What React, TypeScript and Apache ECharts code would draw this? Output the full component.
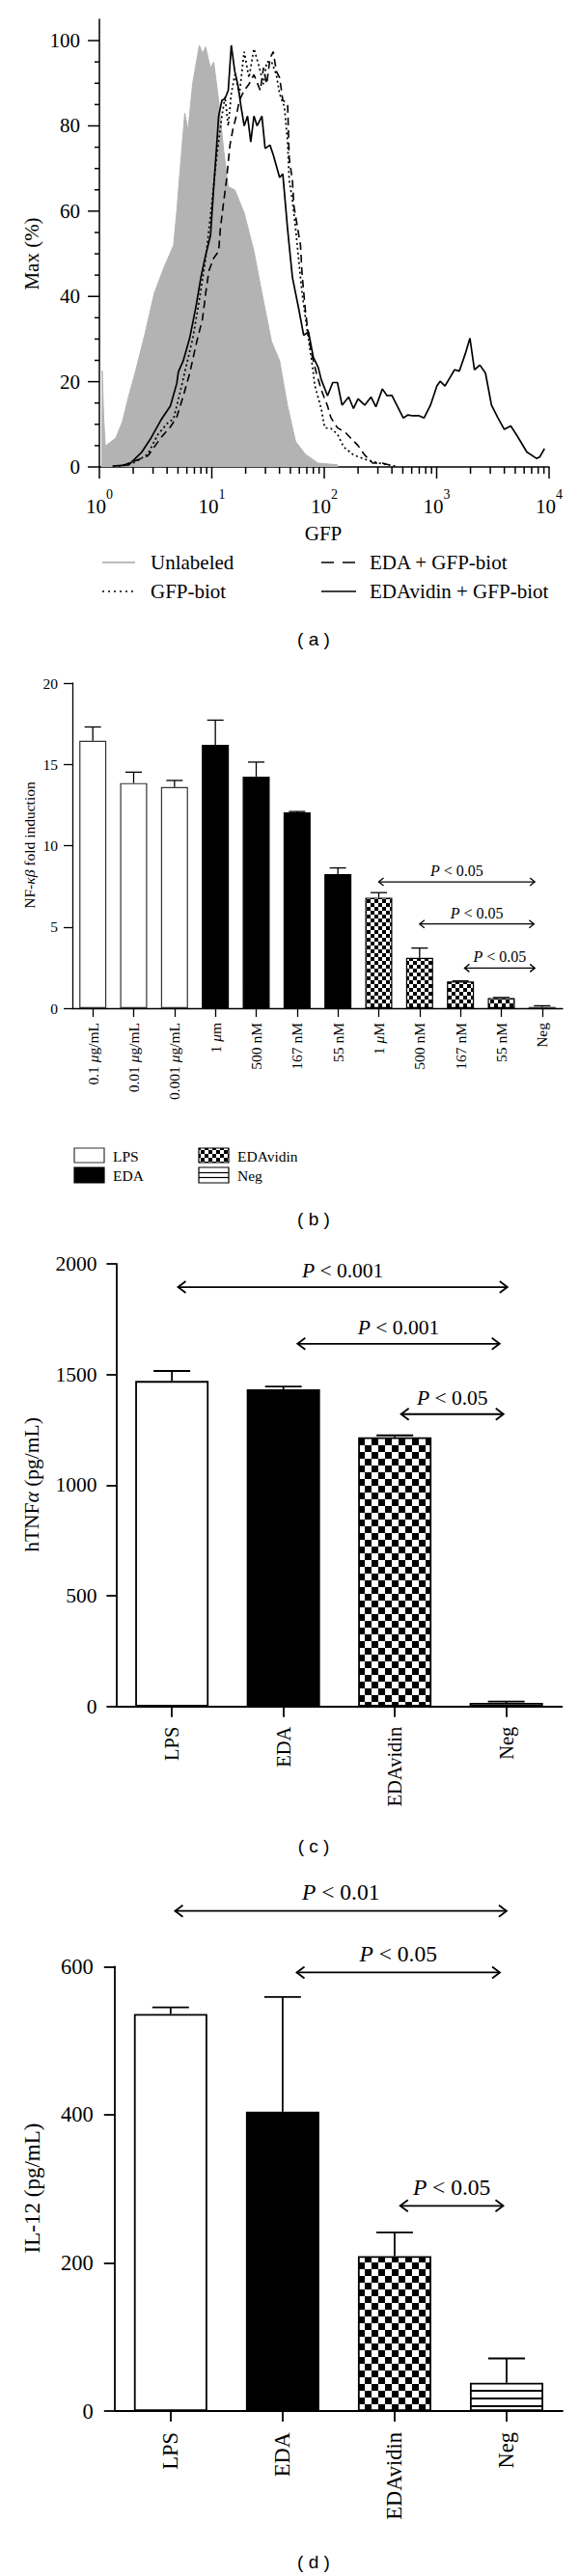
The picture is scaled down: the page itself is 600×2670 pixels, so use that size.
import React, { useEffect, useRef } from 'react';
import * as echarts from 'echarts';

const SERIF = '"Liberation Serif", "Times New Roman", serif';
const SANS = '"Liberation Sans", Arial, sans-serif';

// ---------- Panel (a): flow cytometry histograms, [GFP, % of max] ----------
const unlabeled = [
  [1.05, 0], [1.06, 22.6], [1.09, 12], [1.13, 4.9], [1.4, 6.8], [1.6, 10.6], [1.82, 16.6], [2.07, 21.9],
  [2.53, 31], [3.08, 40.8], [3.75, 46.8], [4.57, 52], [4.88, 60], [5.21, 69.4], [5.75, 83], [6.14, 79],
  [6.76, 90], [7.74, 98.9], [8.26, 97], [8.81, 98.5], [9.72, 93.6], [10.4, 95], [11.5, 86], [12.7, 74.7],
  [14.0, 65.7], [16.0, 65], [19.4, 59.6], [23.7, 50.6], [27.9, 40.8], [34.0, 29.4], [40.1, 24.9],
  [47.2, 14.3], [55.6, 6], [67.8, 3], [88.1, 0.9], [131, 0.5], [132, 0],
];
const gfpBiot = [
  [1.49, 0.2], [2.07, 1.1], [2.7, 3], [3.29, 7.5], [4.01, 10.2], [4.57, 11.3], [5.21, 17.4], [5.94, 23.8],
  [6.78, 30.2], [7.74, 39.2], [8.83, 49], [10.07, 62.6], [11.1, 73.2], [12.3, 82.3], [13.1, 86.8], [14.0, 80],
  [14.9, 87.5], [16.0, 92], [17.6, 87.5], [19.4, 97.4], [21.4, 91.3], [23.7, 98.1], [26.1, 94.3], [28.8, 89.8],
  [30.8, 95], [34.0, 95], [37.5, 92], [40.1, 87.5], [44.2, 84.5], [47.2, 76.2], [48.8, 67.2], [52.1, 62.6],
  [55.7, 55.8], [59.4, 48.3], [63.5, 40.8], [70.1, 32.5], [77.4, 24.9], [82.6, 19], [94, 13.7], [101, 9.2],
  [115, 9], [131, 7.7], [149, 4.7], [182, 2.8], [237, 1.7], [307, 0.9], [427, 0.2],
];
const edaGfpBiot = [
  [1.6, 0.3], [2.7, 2.6], [3.51, 6.8], [4.28, 9.4], [4.88, 11.7], [5.57, 16.6], [6.35, 21.9], [7.24, 28.7],
  [8.26, 34.7], [8.83, 40.8], [9.42, 46], [10.4, 49], [11.5, 50.6], [11.9, 55.8], [12.7, 61.9], [13.5, 67.2],
  [14.5, 75.5], [15.4, 79.2], [16.5, 82.3], [17.6, 86], [19.4, 88.3], [21.4, 89.8], [23.7, 92], [27.0, 88.3],
  [28.8, 93.6], [30.8, 89.8], [32.9, 95.8], [35.2, 97.4], [37.5, 92.8], [40.1, 91.3], [42.8, 86], [47.2, 85.3],
  [48.8, 72.5], [52.1, 67.2], [53.8, 61.1], [57.5, 56.6], [61.5, 52], [63.5, 45.3], [67.8, 37], [72.4, 30.9],
  [77.4, 26.4], [85.4, 21.9], [94.2, 18.1], [101, 16], [107, 14.3], [115, 11.5], [131, 9.2], [154, 8.1],
  [170, 6.9], [200, 5], [229, 2.8], [270, 0.9], [329, 0.9], [374, 0.5],
];
const edavidinGfpBiot = [
  [1.31, 0.2], [1.82, 0.5], [2.07, 1.9], [2.37, 3.4], [2.88, 6.8], [3.51, 10.9], [4.28, 14.3], [4.88, 19.6],
  [5.04, 22.3], [5.57, 24.9], [6.35, 30.2], [7.24, 37.7], [8.0, 44.5], [8.83, 49.8], [9.74, 54.3], [10.4, 65.7],
  [11.1, 76.2], [11.5, 82.3], [12.3, 86], [13.1, 86.4], [14.0, 88.3], [14.9, 98.9], [16.0, 92.8], [17.0, 89.8],
  [18.2, 84.5], [19.4, 80], [20.8, 82.3], [22.2, 76.2], [23.7, 82.3], [25.3, 80], [27.9, 82.3], [29.8, 74.7],
  [32.9, 75.5], [35.2, 73.2], [40.1, 67.9], [42.8, 68.7], [47.2, 55.8], [52.1, 44.5], [59.4, 37], [65.6, 30.9],
  [72.4, 31.7], [80, 25.7], [88.3, 23.4], [94, 20.5], [107, 16.7], [119, 19.8], [131, 19.8], [144, 14.5],
  [165, 16.4], [182, 13.7], [200, 16], [229, 14.5], [261, 16.4], [288, 14.1], [329, 18.3], [363, 16.7],
  [400, 16.8], [442, 14.5], [504, 11.5], [556, 12.2], [613, 12], [700, 12], [773, 11.5], [881, 14.5],
  [1005, 19], [1074, 20.1], [1186, 19], [1309, 20.9], [1442, 22.8], [1592, 22.5], [1795, 26.5], [1977, 30.2],
  [2167, 22.8], [2425, 23.9], [2718, 22], [3073, 14.5], [3508, 11.5], [3997, 8.8], [4560, 9.6], [5200, 7.3],
  [6339, 3.5], [7726, 2], [8244, 2.3], [9100, 4.3],
];
const gfpMajorTicks = [1, 10, 100, 1000, 10000];
const gfpMinorTicks = [2, 3, 4, 5, 6, 7, 8, 9, 20, 30, 40, 50, 60, 70, 80, 90, 200, 300, 400, 500, 600, 700, 800, 900,
  2000, 3000, 4000, 5000, 6000, 7000, 8000, 9000];
const maxMajorTicks = [0, 20, 40, 60, 80, 100];
const maxMinorTicks = [5, 10, 15, 25, 30, 35, 45, 50, 55, 65, 70, 75, 85, 90, 95];

// ---------- Panel (b): NF-kB fold induction ----------
const nfCategories = ['0.1 μg/mL', '0.01 μg/mL', '0.001 μg/mL', '1 μm', '500 nM', '167 nM', '55 nM',
  '1 μM', '500 nM', '167 nM', '55 nM', 'Neg'];
const nfLps = [16.45, 13.85, 13.6];
const nfLpsErr = [0.85, 0.67, 0.41];
const nfEda = [16.2, 14.25, 12.05, 8.25];
const nfEdaErr = [1.52, 0.89, 0.05, 0.38];
const nfEdavidin = [6.8, 3.1, 1.65, 0.63];
const nfEdavidinErr = [0.31, 0.6, 0.03, 0.03];
const nfNeg = [0.08];
const nfNegErr = [0.07];
const nfBrackets = [[7, 10.82, 7.77], [8, 10.8, 5.18], [9.1, 10.82, 2.47]];
const nfBracketLabels = ['P < 0.05', 'P < 0.05', 'P < 0.05'];

// ---------- Panel (c): hTNFα ----------
const groupCategories = ['LPS', 'EDA', 'EDAvidin', 'Neg'];
const tnfValues = [1471, 1433, 1216, 16];
const tnfErrors = [45, 13, 9, 6];
const tnfBrackets = [[0.055, 3.01, 1895], [1.127, 2.94, 1639], [2.056, 2.975, 1321]];
const tnfBracketLabels = ['P < 0.001', 'P < 0.001', 'P < 0.05'];

// ---------- Panel (d): IL-12 ----------
const ilValues = [536, 404, 209, 38];
const ilErrors = [9, 155, 32, 33];
const ilBrackets = [[0.04, 3.0, 675], [1.126, 2.94, 592], [2.05, 2.97, 277]];
const ilBracketLabels = ['P < 0.01', 'P < 0.05', 'P < 0.05'];

function makePattern(w: number, h: number, draw: (ctx: CanvasRenderingContext2D) => void) {
  const c = document.createElement('canvas');
  c.width = w;
  c.height = h;
  const ctx = c.getContext('2d')!;
  ctx.fillStyle = '#fff';
  ctx.fillRect(0, 0, w, h);
  ctx.fillStyle = '#000';
  draw(ctx);
  return { image: c.toDataURL(), repeat: 'repeat', imageWidth: w, imageHeight: h };
}
function checker(s: number) {
  return makePattern(2 * s, 2 * s, (ctx) => {
    ctx.fillRect(0, 0, s, s);
    ctx.fillRect(s, s, s, s);
  });
}

function errRender(cap: number, lw: number) {
  return (params: any, api: any) => {
    const cat = api.value(0);
    const v = api.value(1);
    const e = api.value(2);
    const p0 = api.coord([cat, v]);
    const p1 = api.coord([cat, v + e]);
    const style = { stroke: '#000', lineWidth: lw };
    return {
      type: 'group',
      children: [
        { type: 'line', shape: { x1: p0[0], y1: p0[1], x2: p1[0], y2: p1[1] }, style },
        { type: 'line', shape: { x1: p1[0] - cap / 2, y1: p1[1], x2: p1[0] + cap / 2, y2: p1[1] }, style },
      ],
    };
  };
}

function bracketRender(labels: string[], hl: number, hw: number, textDy: number, fontSize: number, lw: number) {
  return (params: any, api: any) => {
    const from = api.value(0);
    const to = api.value(1);
    const y = api.value(2);
    const c0 = api.coord([0, y]);
    const c1 = api.coord([1, y]);
    const step = c1[0] - c0[0];
    const x0 = c0[0] + from * step;
    const x1 = c0[0] + to * step;
    const yy = c0[1];
    const style = { stroke: '#000', lineWidth: lw, fill: 'none' };
    const txt = labels[params.dataIndex].replace('P', '{i|P}');
    return {
      type: 'group',
      children: [
        { type: 'line', shape: { x1: x0, y1: yy, x2: x1, y2: yy }, style },
        { type: 'polyline', shape: { points: [[x0 + hl, yy - hw], [x0, yy], [x0 + hl, yy + hw]] }, style },
        { type: 'polyline', shape: { points: [[x1 - hl, yy - hw], [x1, yy], [x1 - hl, yy + hw]] }, style },
        {
          type: 'text',
          x: (x0 + x1) / 2,
          y: yy + textDy,
          style: {
            text: txt, fill: '#000', fontSize, fontFamily: SERIF,
            align: 'center', verticalAlign: 'middle', textAlign: 'center', textVerticalAlign: 'middle',
            rich: { i: { fontStyle: 'italic', fontSize, fontFamily: SERIF, fill: '#000' } },
          },
        },
      ],
    };
  };
}

function gText(text: string, x: number, y: number, fontSize: number, opts: any = {}) {
  return {
    type: 'text',
    x, y,
    rotation: opts.rotation || 0,
    silent: true,
    style: {
      text,
      fontSize,
      fontFamily: opts.font || SERIF,
      fill: '#000',
      align: opts.align || 'center',
      verticalAlign: 'middle',
      textAlign: opts.align || 'center',
      textVerticalAlign: 'middle',
      rich: opts.rich,
    },
  };
}

function axisCommon(width: number, tickLen: number, fontSize: number, margin: number) {
  return {
    axisLine: { show: true, onZero: false, lineStyle: { color: '#000', width } },
    axisTick: { show: true, length: tickLen, lineStyle: { color: '#000', width } },
    splitLine: { show: false },
    axisLabel: {
      margin, fontSize, color: '#000', fontFamily: SERIF,
      formatter: (v: any) => String(v),
    },
  };
}

export default function App() {
  const ref = useRef<HTMLDivElement>(null);
  useEffect(() => {
    const chart = echarts.init(ref.current!, null, { renderer: 'svg' });
    const chk4 = checker(4);
    const chk7 = checker(7);
    const hLines = makePattern(8, 8, (ctx) => ctx.fillRect(0, 5, 8, 2));

    const aTickData = [
      ...gfpMajorTicks.map((v) => [v, 0, 0]),
      ...gfpMinorTicks.map((v) => [v, 0, 1]),
      ...maxMajorTicks.map((v) => [1, v, 2]),
      ...maxMinorTicks.map((v) => [1, v, 3]),
    ];

    const place = (vals: number[], start: number) =>
      nfCategories.map((_, i) => (i >= start && i < start + vals.length ? vals[i - start] : '-'));
    const nfErrData = [
      ...nfLps.map((v, i) => [i, v, nfLpsErr[i]]),
      ...nfEda.map((v, i) => [3 + i, v, nfEdaErr[i]]),
      ...nfEdavidin.map((v, i) => [7 + i, v, nfEdavidinErr[i]]),
      ...nfNeg.map((v, i) => [11 + i, v, nfNegErr[i]]),
    ];

    const styleCD = [
      { color: '#fff', borderColor: '#000', borderWidth: 1.8 },
      { color: '#000', borderColor: '#000', borderWidth: 1.8 },
      { color: chk7, borderColor: '#000', borderWidth: 1.8 },
      { color: '#fff', borderColor: '#000', borderWidth: 1.8 },
    ];
    const styleD = styleCD.map((s, i) => (i === 3 ? { ...s, color: hLines } : s));

    const option: any = {
      animation: false,
      backgroundColor: '#fff',
      textStyle: { fontFamily: SERIF, color: '#000' },
      grid: [
        { left: 103, top: 20, width: 466, height: 464, outerBoundsMode: 'none', containLabel: false },
        { left: 75, top: 708, width: 508, height: 337, outerBoundsMode: 'none', containLabel: false },
        { left: 120.4, top: 1310, width: 462, height: 458.7, outerBoundsMode: 'none', containLabel: false },
        { left: 118.8, top: 2038.3, width: 464.2, height: 460.7, outerBoundsMode: 'none', containLabel: false },
      ],
      xAxis: [
        {
          gridIndex: 0, type: 'log', logBase: 10, min: 1, max: 10000,
          axisLine: { show: true, onZero: false, lineStyle: { color: '#000', width: 1.5 } },
          axisTick: { show: false }, minorTick: { show: false }, splitLine: { show: false },
          axisLabel: {
            margin: 21, color: '#000',
            formatter: (v: number) => `{b|10}{s|${Math.round(Math.log10(v))}}`,
            rich: {
              b: { fontSize: 21, fontFamily: SERIF, color: '#000', lineHeight: 30, verticalAlign: 'bottom' },
              s: { fontSize: 14, fontFamily: SERIF, color: '#000', lineHeight: 14, verticalAlign: 'top' },
            },
          },
        },
        {
          gridIndex: 1, type: 'category', data: nfCategories,
          ...axisCommon(1.3, 9, 15.5, 15),
          axisTick: { show: true, alignWithLabel: true, interval: 0, length: 9, lineStyle: { color: '#000', width: 1.3 } },
          axisLabel: {
            interval: 0, rotate: 90, margin: 15, fontSize: 15.5, color: '#000', fontFamily: SERIF,
            formatter: (v: string) => v.replace('μ', '{i|μ}'),
            rich: { i: { fontStyle: 'italic', fontSize: 15.5, fontFamily: SERIF, color: '#000' } },
          },
        },
        {
          gridIndex: 2, type: 'category', data: groupCategories,
          ...axisCommon(1.8, 11, 20.5, 21),
          axisTick: { show: true, alignWithLabel: true, interval: 0, length: 11, lineStyle: { color: '#000', width: 1.8 } },
          axisLabel: { interval: 0, rotate: 90, margin: 21, fontSize: 20.5, color: '#000', fontFamily: SERIF },
        },
        {
          gridIndex: 3, type: 'category', data: groupCategories,
          ...axisCommon(1.8, 11, 22.5, 22),
          axisTick: { show: true, alignWithLabel: true, interval: 0, length: 11, lineStyle: { color: '#000', width: 1.8 } },
          axisLabel: { interval: 0, rotate: 90, margin: 22, fontSize: 22.5, color: '#000', fontFamily: SERIF },
        },
      ],
      yAxis: [
        {
          gridIndex: 0, type: 'value', min: 0, max: 105, interval: 20,
          axisLine: { show: true, onZero: false, lineStyle: { color: '#000', width: 1.5 } },
          axisTick: { show: false }, splitLine: { show: false },
          axisLabel: {
            margin: 20, fontSize: 21, color: '#000', fontFamily: SERIF,
            formatter: (v: number) => (v <= 100 ? String(v) : ''),
          },
        },
        { gridIndex: 1, type: 'value', min: 0, max: 20, interval: 5, ...axisCommon(1.3, 9, 15.5, 15) },
        { gridIndex: 2, type: 'value', min: 0, max: 2000, interval: 500, ...axisCommon(1.8, 10, 21.5, 20) },
        { gridIndex: 3, type: 'value', min: 0, max: 600, interval: 200, ...axisCommon(1.8, 11, 22.5, 22) },
      ],
      series: [
        // (a)
        {
          type: 'line', name: 'Unlabeled', xAxisIndex: 0, yAxisIndex: 0, data: unlabeled,
          showSymbol: false, symbol: 'none', lineStyle: { color: '#b3b3b3', width: 1 },
          areaStyle: { color: '#b3b3b3', opacity: 1 }, z: 1, silent: true,
        },
        {
          type: 'line', name: 'GFP-biot', xAxisIndex: 0, yAxisIndex: 0, data: gfpBiot,
          showSymbol: false, symbol: 'none', lineStyle: { color: '#000', width: 1.7, type: [2, 3] }, z: 2, silent: true,
        },
        {
          type: 'line', name: 'EDA + GFP-biot', xAxisIndex: 0, yAxisIndex: 0, data: edaGfpBiot,
          showSymbol: false, symbol: 'none', lineStyle: { color: '#000', width: 1.6, type: [8, 5] }, z: 3, silent: true,
        },
        {
          type: 'line', name: 'EDAvidin + GFP-biot', xAxisIndex: 0, yAxisIndex: 0, data: edavidinGfpBiot,
          showSymbol: false, symbol: 'none', lineStyle: { color: '#000', width: 1.7 }, z: 4, silent: true,
        },
        {
          type: 'custom', name: 'ticksA', xAxisIndex: 0, yAxisIndex: 0, data: aTickData, z: 10, silent: true, clip: false,
          renderItem: (params: any, api: any) => {
            const p = api.coord([api.value(0), api.value(1)]);
            const k = api.value(2);
            let shape;
            if (k === 0) shape = { x1: p[0], y1: p[1], x2: p[0], y2: p[1] + 12 };
            else if (k === 1) shape = { x1: p[0], y1: p[1], x2: p[0], y2: p[1] + 7 };
            else if (k === 2) shape = { x1: p[0] - 12, y1: p[1], x2: p[0], y2: p[1] };
            else shape = { x1: p[0] - 5, y1: p[1], x2: p[0], y2: p[1] };
            return { type: 'line', shape, style: { stroke: '#000', lineWidth: 1.5 } };
          },
        },
        // (b)
        {
          type: 'bar', name: 'LPS', xAxisIndex: 1, yAxisIndex: 1, data: place(nfLps, 0), barWidth: 28, barGap: '-100%',
          itemStyle: { color: '#fff', borderColor: '#333', borderWidth: 1.2 }, silent: true,
        },
        {
          type: 'bar', name: 'EDA', xAxisIndex: 1, yAxisIndex: 1, data: place(nfEda, 3), barWidth: 28, barGap: '-100%',
          itemStyle: { color: '#000', borderColor: '#000', borderWidth: 1.2 }, silent: true,
        },
        {
          type: 'bar', name: 'EDAvidin', xAxisIndex: 1, yAxisIndex: 1, data: place(nfEdavidin, 7), barWidth: 28, barGap: '-100%',
          itemStyle: { color: chk4, borderColor: '#000', borderWidth: 1.2 }, silent: true,
        },
        {
          type: 'bar', name: 'Neg', xAxisIndex: 1, yAxisIndex: 1, data: place(nfNeg, 11), barWidth: 28, barGap: '-100%',
          itemStyle: { color: '#fff', borderColor: '#333', borderWidth: 1.2 }, silent: true,
        },
        {
          type: 'custom', name: 'errB', xAxisIndex: 1, yAxisIndex: 1, data: nfErrData, z: 5, silent: true, clip: false,
          renderItem: errRender(17, 1.3),
        },
        {
          type: 'custom', name: 'bracketsB', xAxisIndex: 1, yAxisIndex: 1, data: nfBrackets, encode: { x: 0, y: 2 },
          z: 6, silent: true, clip: false, renderItem: bracketRender(nfBracketLabels, 5, 4, -11.5, 16, 1.3),
        },
        // (c)
        {
          type: 'bar', name: 'hTNF', xAxisIndex: 2, yAxisIndex: 2, barWidth: 76, silent: true,
          data: tnfValues.map((v, i) => ({ value: v, itemStyle: styleCD[i] })),
        },
        {
          type: 'custom', name: 'errC', xAxisIndex: 2, yAxisIndex: 2, z: 5, silent: true, clip: false,
          data: tnfValues.map((v, i) => [i, v, tnfErrors[i]]), renderItem: errRender(38, 1.8),
        },
        {
          type: 'custom', name: 'bracketsC', xAxisIndex: 2, yAxisIndex: 2, data: tnfBrackets, encode: { x: 0, y: 2 },
          z: 6, silent: true, clip: false, renderItem: bracketRender(tnfBracketLabels, 8, 6, -17, 21.5, 1.8),
        },
        // (d)
        {
          type: 'bar', name: 'IL-12', xAxisIndex: 3, yAxisIndex: 3, barWidth: 76, silent: true,
          data: ilValues.map((v, i) => ({ value: v, itemStyle: styleD[i] })),
        },
        {
          type: 'custom', name: 'errD', xAxisIndex: 3, yAxisIndex: 3, z: 5, silent: true, clip: false,
          data: ilValues.map((v, i) => [i, v, ilErrors[i]]), renderItem: errRender(38, 1.8),
        },
        {
          type: 'custom', name: 'bracketsD', xAxisIndex: 3, yAxisIndex: 3, data: ilBrackets, encode: { x: 0, y: 2 },
          z: 6, silent: true, clip: false, renderItem: bracketRender(ilBracketLabels, 8, 6, -19.5, 23.5, 1.8),
        },
      ],
      graphic: {
        elements: [
          // (a) axis names, legend, caption
          gText('Max (%)', 33, 263, 21, { rotation: Math.PI / 2 }),
          gText('GFP', 335, 553, 21),
          { type: 'line', silent: true, shape: { x1: 106, y1: 583, x2: 140, y2: 583 }, style: { stroke: '#a6a6a6', lineWidth: 1.5 } },
          gText('Unlabeled', 156, 583, 21, { align: 'left' }),
          { type: 'line', silent: true, shape: { x1: 333, y1: 583, x2: 369, y2: 583 }, style: { stroke: '#000', lineWidth: 1.5, lineDash: [13, 9] } },
          gText('EDA + GFP-biot', 383, 583, 21, { align: 'left' }),
          { type: 'line', silent: true, shape: { x1: 106, y1: 613, x2: 140, y2: 613 }, style: { stroke: '#000', lineWidth: 1.5, lineDash: [2, 4] } },
          gText('GFP-biot', 156, 613, 21, { align: 'left' }),
          { type: 'line', silent: true, shape: { x1: 333, y1: 613, x2: 369, y2: 613 }, style: { stroke: '#000', lineWidth: 1.5 } },
          gText('EDAvidin + GFP-biot', 383, 613, 21, { align: 'left' }),
          gText('( a )', 325, 662, 19, { font: SANS }),
          // (b)
          gText('NF-{i|κβ} fold induction', 30, 876, 15.5, {
            rotation: Math.PI / 2,
            rich: { i: { fontStyle: 'italic', fontSize: 15.5, fontFamily: SERIF, fill: '#000' } },
          }),
          { type: 'rect', silent: true, shape: { x: 77, y: 1190, width: 31, height: 15 }, style: { fill: '#fff', stroke: '#333', lineWidth: 1.2 } },
          gText('LPS', 117, 1198, 15.5, { align: 'left' }),
          { type: 'rect', silent: true, shape: { x: 77, y: 1210, width: 31, height: 16 }, style: { fill: '#000', stroke: '#000', lineWidth: 1.2 } },
          gText('EDA', 117, 1218, 15.5, { align: 'left' }),
          { type: 'rect', silent: true, shape: { x: 206, y: 1190, width: 31, height: 15 }, style: { fill: chk4, stroke: '#000', lineWidth: 1.2 } },
          gText('EDAvidin', 246, 1198, 15.5, { align: 'left' }),
          { type: 'rect', silent: true, shape: { x: 206, y: 1210, width: 31, height: 16 }, style: { fill: '#fff', stroke: '#000', lineWidth: 1.2 } },
          { type: 'line', silent: true, shape: { x1: 206, y1: 1215.5, x2: 237, y2: 1215.5 }, style: { stroke: '#000', lineWidth: 1.2 } },
          { type: 'line', silent: true, shape: { x1: 206, y1: 1220.5, x2: 237, y2: 1220.5 }, style: { stroke: '#000', lineWidth: 1.2 } },
          gText('Neg', 246, 1218, 15.5, { align: 'left' }),
          gText('( b )', 325, 1263, 19, { font: SANS }),
          // (c)
          gText('hTNF{i|α} (pg/mL)', 33, 1539, 21.5, {
            rotation: Math.PI / 2,
            rich: { i: { fontStyle: 'italic', fontSize: 21.5, fontFamily: SERIF, fill: '#000' } },
          }),
          gText('( c )', 325, 1913, 19, { font: SANS }),
          // (d)
          gText('IL-12 (pg/mL)', 33, 2268, 23, { rotation: Math.PI / 2 }),
          gText('( d )', 325, 2655, 19, { font: SANS }),
        ],
      },
    };
    chart.setOption(option);
    return () => chart.dispose();
  }, []);
  return (
    <div
      ref={ref}
      style={{ position: 'absolute', left: 0, top: 0, width: 600, height: 2670, background: '#fff' }}
    />
  );
}
